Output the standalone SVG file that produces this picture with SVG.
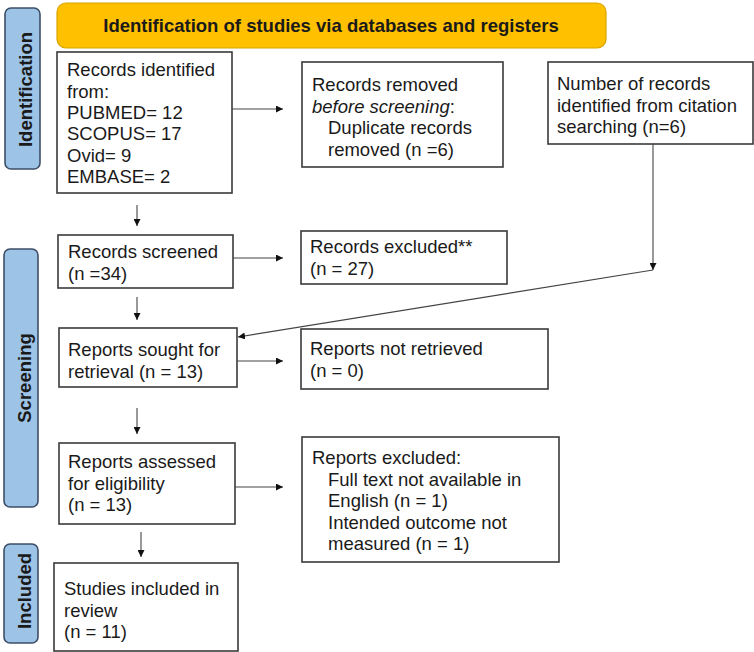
<svg xmlns="http://www.w3.org/2000/svg" width="754" height="652" viewBox="0 0 754 652">
<defs>
<marker id="ah" viewBox="0 0 10 10" refX="10" refY="5" markerWidth="7" markerHeight="7" markerUnits="userSpaceOnUse" orient="auto">
<path d="M0,0 L10,5 L0,10 z" fill="#111"/>
</marker>
<style>
text{font-family:"Liberation Sans",Arial,sans-serif;font-size:18.5px;fill:#1a1a1a}
.box{fill:#fff;stroke:#3a3a3a;stroke-width:1.6}
.side{fill:#9DC3E6;stroke:#3c4f66;stroke-width:1.6}
.stext{font-weight:bold;text-anchor:middle}
.head{fill:#FFC000;stroke:#D9A400;stroke-width:1.2}
.con{stroke:#444;stroke-width:1.1;fill:none;marker-end:url(#ah)}
</style>
</defs>
<rect width="754" height="652" fill="#fff"/>

<g id="header">
<rect class="head" x="57" y="3" width="549" height="45" rx="9"/>
<text x="331" y="32" text-anchor="middle" font-weight="bold" font-size="18.8">Identification of studies via databases and registers</text>
</g>

<g id="side-identification">
<rect class="side" x="5" y="8" width="35" height="161" rx="6"/>
<text class="stext" transform="translate(31.5,89.5) rotate(-90)">Identification</text>
</g>
<g id="side-screening">
<rect class="side" x="4" y="249" width="34" height="258" rx="6"/>
<text class="stext" transform="translate(31,378) rotate(-90)">Screening</text>
</g>
<g id="side-included">
<rect class="side" x="4" y="544" width="34" height="99" rx="6"/>
<text class="stext" transform="translate(31,591) rotate(-90)">Included</text>
</g>

<g id="records-identified">
<rect class="box" x="57" y="52" width="175" height="141"/>
<text x="67" y="76">Records identified</text>
<text x="67" y="97.5">from:</text>
<text x="67" y="119">PUBMED= 12</text>
<text x="67" y="140">SCOPUS= 17</text>
<text x="67" y="161.5">Ovid= 9</text>
<text x="67" y="183">EMBASE= 2</text>
</g>

<g id="records-removed">
<rect class="box" x="302" y="62" width="201" height="105"/>
<text x="312" y="91">Records removed</text>
<text x="312" y="112.5"><tspan font-style="italic">before screening</tspan>:</text>
<text x="328" y="134">Duplicate records</text>
<text x="328" y="155.5">removed (n =6)</text>
</g>

<g id="citation">
<rect class="box" x="548" y="62" width="205" height="82"/>
<text x="557" y="90">Number of records</text>
<text x="557" y="111.5">identified from citation</text>
<text x="557" y="133">searching (n=6)</text>
</g>

<g id="records-screened">
<rect class="box" x="58" y="235" width="175" height="53"/>
<text x="68" y="258">Records screened</text>
<text x="68" y="280">(n =34)</text>
</g>

<g id="records-excluded">
<rect class="box" x="301" y="231" width="206" height="53"/>
<text x="310" y="253">Records excluded**</text>
<text x="310" y="275">(n = 27)</text>
</g>

<g id="reports-sought">
<rect class="box" x="59" y="328" width="178" height="59"/>
<text x="68" y="356">Reports sought for</text>
<text x="68" y="378">retrieval (n = 13)</text>
</g>

<g id="reports-not-retrieved">
<rect class="box" x="301" y="329" width="247" height="60"/>
<text x="310" y="355">Reports not retrieved</text>
<text x="310" y="377">(n = 0)</text>
</g>

<g id="reports-assessed">
<rect class="box" x="59" y="443" width="176" height="81"/>
<text x="68" y="468">Reports assessed</text>
<text x="68" y="489.5">for eligibility</text>
<text x="68" y="511">(n = 13)</text>
</g>

<g id="reports-excluded">
<rect class="box" x="302" y="437" width="257" height="125"/>
<text x="312" y="464">Reports excluded:</text>
<text x="328" y="485.5">Full text not available in</text>
<text x="328" y="507">English (n = 1)</text>
<text x="328" y="528.5">Intended outcome not</text>
<text x="328" y="550">measured (n = 1)</text>
</g>

<g id="studies-included">
<rect class="box" x="54" y="563" width="184" height="88"/>
<text x="64" y="595">Studies included in</text>
<text x="64" y="616.5">review</text>
<text x="64" y="638">(n = 11)</text>
</g>

<g id="connectors">
<line class="con" x1="232" y1="109" x2="283" y2="109"/>
<line class="con" x1="137" y1="205" x2="137" y2="226"/>
<line class="con" x1="233" y1="258" x2="283" y2="258"/>
<line class="con" x1="653" y1="144" x2="653" y2="270"/>
<line class="con" x1="653" y1="270" x2="238" y2="337"/>
<line class="con" x1="137" y1="297" x2="137" y2="320"/>
<line class="con" x1="237" y1="361" x2="283" y2="361"/>
<line class="con" x1="137" y1="408" x2="137" y2="434"/>
<line class="con" x1="235" y1="487" x2="283" y2="487"/>
<line class="con" x1="141" y1="532" x2="141" y2="557"/>
</g>
</svg>
